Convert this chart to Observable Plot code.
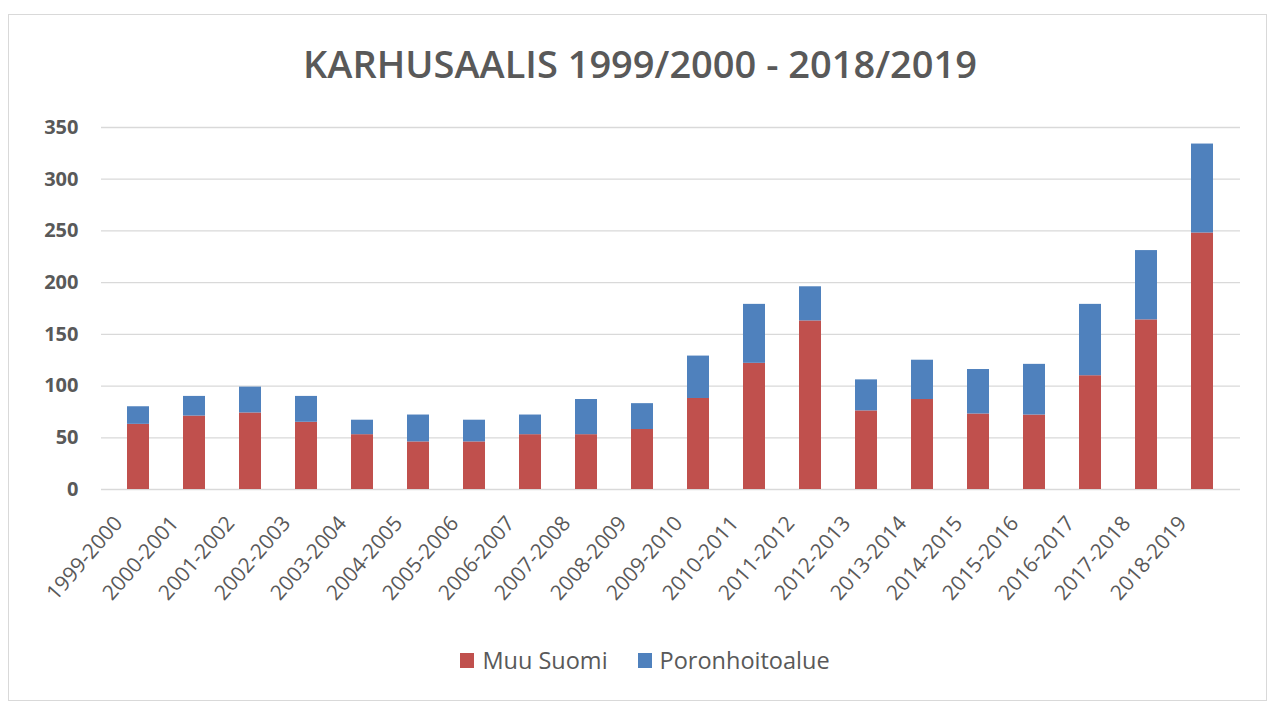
<!DOCTYPE html>
<html><head><meta charset="utf-8">
<script src="https://cdn.jsdelivr.net/npm/d3@7"></script>
<script src="https://cdn.jsdelivr.net/npm/@observablehq/plot@0.6"></script>
<style>
body{margin:0;background:#fff;font-family:"Open Sans",sans-serif;}
#wrap{position:relative;width:1274px;height:706px;overflow:hidden;background:#fff;}
#frame{position:absolute;left:8px;top:14px;width:1259px;height:687px;border:1px solid #d9d9d9;box-sizing:border-box;}
#title{position:absolute;left:0;top:38px;width:1280px;text-align:center;font-size:38px;font-weight:600;color:#595959;line-height:50px;white-space:nowrap;}
#chart{position:absolute;left:0;top:100px;}
#legend{position:absolute;left:0;top:645px;width:1290px;display:flex;justify-content:center;gap:30px;font-size:23.5px;color:#595959;line-height:30px;}
#legend .item{display:flex;align-items:center;gap:8px;}
#legend .sw{width:14px;height:15px;display:inline-block;}
</style>
</head><body>
<div id="wrap">
  <div id="frame"></div>
  <div id="title"></div>
  <div id="chart"></div>
  <div id="legend"></div>
</div>
<script>
const titleText = "KARHUSAALIS 1999/2000 - 2018/2019";
const seasons = ["1999-2000","2000-2001","2001-2002","2002-2003","2003-2004","2004-2005","2005-2006","2006-2007","2007-2008","2008-2009","2009-2010","2010-2011","2011-2012","2012-2013","2013-2014","2014-2015","2015-2016","2016-2017","2017-2018","2018-2019"];
const seriesNames = ["Muu Suomi","Poronhoitoalue"];
const muuSuomi =       [63,71,74,65,53,46,46,53,53,58,88,122,163,76,87,73,72,110,164,248];
const poronhoitoalue = [17,19,25,25,14,26,21,19,34,25,41,57,33,30,38,43,49,69,67,86];
const yTicks = [0,50,100,150,200,250,300,350];
const seriesColors = ["#C0504D","#4F81BD"];

const rows = [];
seasons.forEach((s,i)=>rows.push({season:s, series:seriesNames[0], value:muuSuomi[i]}));
seasons.forEach((s,i)=>rows.push({season:s, series:seriesNames[1], value:poronhoitoalue[i]}));

document.getElementById("title").textContent = titleText;

const chart = Plot.plot({
  width: 1274,
  height: 540,
  marginTop: 27,
  marginBottom: 151,
  marginLeft: 101,
  marginRight: 34,
  style: {fontFamily: "'Open Sans', sans-serif", color: "#595959", background: "transparent"},
  x: {domain: seasons, paddingInner: 0.6, paddingOuter: 0.3, label: null},
  y: {domain: [0, 350], label: null},
  color: {domain: seriesNames, range: seriesColors},
  marks: [
    Plot.gridY(yTicks, {stroke: "#d9d9d9", strokeOpacity: 1, strokeWidth: 1.3}),
    Plot.barY(rows, {x: "season", y: "value", fill: "series", order: seriesNames}),
    Plot.axisY(yTicks, {tickSize: 0, tickPadding: 23, fontSize: 20, fontWeight: "bold", label: null}),
    Plot.axisX({tickSize: 0, tickPadding: 30, tickRotate: -49, fontSize: 21, dx: -20, label: null})
  ]
});
document.getElementById("chart").appendChild(chart);

const legend = document.getElementById("legend");
seriesNames.forEach((n,i)=>{
  const it = document.createElement("div"); it.className="item";
  const sw = document.createElement("span"); sw.className="sw"; sw.style.background=seriesColors[i];
  const t = document.createElement("span"); t.textContent=n;
  it.appendChild(sw); it.appendChild(t); legend.appendChild(it);
});
</script>
</body></html>
